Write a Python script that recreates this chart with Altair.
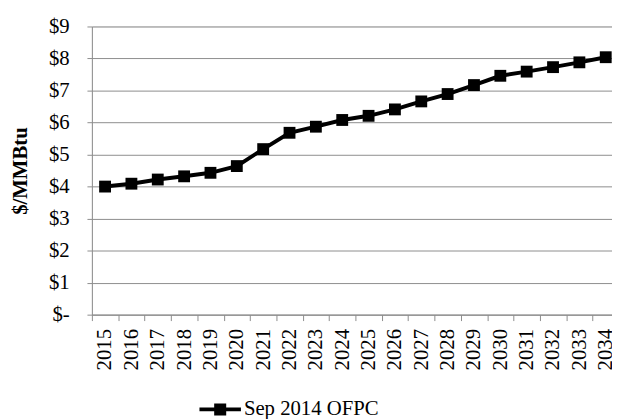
import altair as alt
import pandas as pd

years = [str(y) for y in range(2015, 2035)]
prices = [4.00, 4.09, 4.22, 4.32, 4.43, 4.64, 5.17, 5.68, 5.87, 6.08,
          6.21, 6.41, 6.66, 6.89, 7.17, 7.46, 7.59, 7.73, 7.88, 8.04]
series_name = "Sep 2014 OFPC"
y_ticks = [0, 1, 2, 3, 4, 5, 6, 7, 8, 9]

df = pd.DataFrame({"Year": years, "Price": prices, "Series": [series_name] * len(years)})

FONT = "Liberation Serif"
GRID = "#8c8c8c"

legend_path = ("M-1,-0.095L1,-0.095L1,0.095L-1,0.095Z"
               "M-0.29,-0.29L0.29,-0.29L0.29,0.29L-0.29,0.29Z")

x_enc = alt.X(
    "Year:N",
    sort=years,
    bandPosition=0.5,
    scale=alt.Scale(type="band", paddingInner=0, paddingOuter=0, range=[0, 534]),
    axis=alt.Axis(
        title=None,
        labelAngle=-90,
        labelFont=FONT,
        labelFontSize=21,
        labelColor="black",
        labelPadding=8,
        tickBand="extent",
        tickSize=6,
        tickColor=GRID,
        domainColor=GRID,
        grid=False,
        labelOverlap=False,
    ),
)

y_enc = alt.Y(
    "Price:Q",
    scale=alt.Scale(domain=[0, 9], nice=False, zero=True),
    axis=alt.Axis(
        title="$/MMBtu",
        titleFont=FONT,
        titleFontSize=21,
        titleFontWeight="bold",
        titleColor="black",
        titlePadding=18,
        values=y_ticks,
        labelExpr="datum.value == 0 ? '$-' : '$' + datum.value",
        labelFont=FONT,
        labelFontSize=21,
        labelColor="black",
        labelPadding=18,
        tickSize=5,
        tickColor=GRID,
        domainColor=GRID,
        gridColor=GRID,
        grid=True,
    ),
)

base = alt.Chart(df)

line = base.mark_line(color="black", strokeWidth=4).encode(x=x_enc, y=y_enc)

points = base.mark_point(shape="square", filled=True, size=144, opacity=1).encode(
    x=x_enc,
    y=y_enc,
    color=alt.Color(
        "Series:N",
        scale=alt.Scale(range=["black"]),
        legend=alt.Legend(
            title=None,
            orient="none",
            legendX=109,
            legendY=367,
            symbolType=legend_path,
            symbolSize=1764,
            symbolStrokeWidth=0,
            labelFont=FONT,
            labelFontSize=21,
            labelColor="black",
            labelOffset=3,
            padding=0,
        ),
    ),
)

chart = (
    alt.layer(line, points)
    .properties(
        width=527,
        height=292,
        autosize=alt.AutoSizeParams(type="none"),
        padding={"left": 85, "top": 16, "right": 0, "bottom": 103},
    )
    .configure_view(stroke=None)
    .configure(background="white")
)

chart.save("out.html", embed_options={"renderer": "svg", "actions": False})
